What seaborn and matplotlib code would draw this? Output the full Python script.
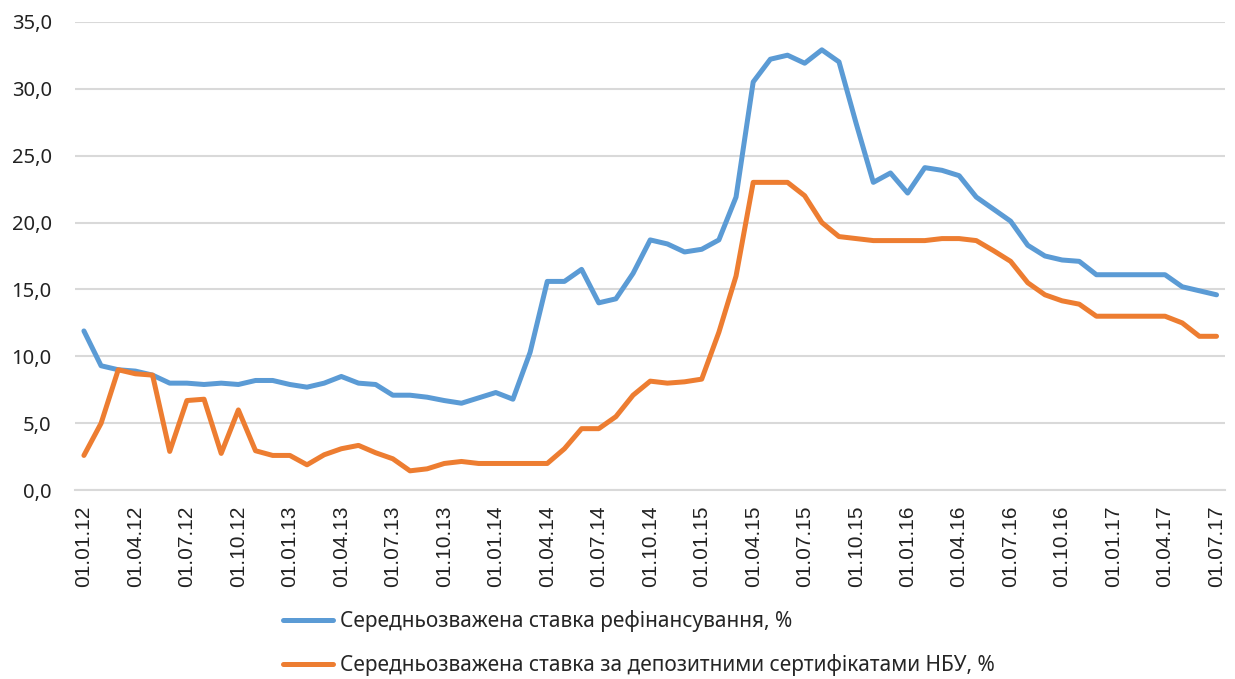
import matplotlib
matplotlib.use("Agg")
import matplotlib.pyplot as plt
import seaborn as sns
import pandas as pd

# monthly data, 01.01.12 - 01.07.17
months = pd.date_range("2012-01-01", "2017-07-01", freq="MS")

refinance_rate = [
    11.9, 9.3, 9.0, 8.9, 8.6, 8.0, 8.0, 7.9, 8.0, 7.9, 8.2, 8.2,
    7.9, 7.7, 8.0, 8.5, 8.0, 7.9, 7.1, 7.1, 6.95, 6.7, 6.5, 6.9,
    7.3, 6.8, 10.3, 15.6, 15.6, 16.5, 14.0, 14.3, 16.2, 18.7, 18.4, 17.8,
    18.0, 18.7, 21.9, 30.5, 32.2, 32.5, 31.9, 32.9, 32.0, 27.4, 23.0, 23.7,
    22.2, 24.1, 23.9, 23.5, 21.9, 21.0, 20.1, 18.3, 17.5, 17.2, 17.1, 16.1,
    16.1, 16.1, 16.1, 16.1, 15.2, 14.9, 14.6,
]
deposit_rate = [
    2.6, 5.0, 9.0, 8.7, 8.6, 2.9, 6.7, 6.8, 2.75, 6.0, 2.95, 2.6,
    2.6, 1.9, 2.65, 3.1, 3.35, 2.8, 2.35, 1.45, 1.6, 2.0, 2.15, 2.0,
    2.0, 2.0, 2.0, 2.0, 3.1, 4.6, 4.6, 5.5, 7.1, 8.15, 8.0, 8.1,
    8.3, 11.8, 16.0, 23.0, 23.0, 23.0, 22.0, 20.0, 18.95, 18.8, 18.65, 18.65,
    18.65, 18.65, 18.8, 18.8, 18.65, 17.9, 17.1, 15.5, 14.6, 14.15, 13.9, 13.0,
    13.0, 13.0, 13.0, 13.0, 12.5, 11.5, 11.5,
]
series_names = [
    "Середньозважена ставка рефінансування, %",
    "Середньозважена ставка за депозитними сертифікатами НБУ, %",
]
colors = ["#5B9BD5", "#ED7D31"]

df = pd.DataFrame({
    "idx": list(range(len(months))) * 2,
    "value": refinance_rate + deposit_rate,
    "series": [series_names[0]] * len(months) + [series_names[1]] * len(months),
})

sns.set_style("white")
plt.rcParams["font.family"] = ["Noto Sans", "DejaVu Sans"]

fig = plt.figure(figsize=(12.35, 6.79), dpi=100)
ax = fig.add_axes([0.061, 0.278, 0.931, 0.690])

sns.lineplot(data=df, x="idx", y="value", hue="series", hue_order=series_names,
             palette=colors, linewidth=3.6, ax=ax, legend=False,
             solid_capstyle="round", solid_joinstyle="round")

ax.set_xlim(-0.5, len(months) - 0.5)
ax.set_ylim(0, 35)
ax.set_yticks(range(0, 36, 5))
ax.set_yticklabels([f"{v},0" for v in range(0, 36, 5)], fontsize=14.5, color="#222222")
ax.yaxis.grid(True, color="#d9d9d9", linewidth=1.5)
ax.tick_params(axis="y", length=0, pad=17)

# labels every 3 months, tick marks between categories
label_pos = list(range(0, len(months), 3))
ax.set_xticks(label_pos)
ax.set_xticklabels([months[i].strftime("%d.%m.%y") for i in label_pos],
                   rotation=90, fontsize=15, color="#222222")
for t in ax.get_xticklabels():
    t.set_fontfamily(["Liberation Sans", "DejaVu Sans"])
ax.tick_params(axis="x", length=0, pad=11)
ax.set_xticks([p - 0.5 for p in range(0, len(months) + 1, 3)], minor=True)
ax.tick_params(axis="x", which="minor", length=7, width=1.5, color="#d9d9d9")
ax.set_xlabel("")
ax.set_ylabel("")

for s in ["top", "right", "left"]:
    ax.spines[s].set_visible(False)
ax.spines["bottom"].set_color("#d9d9d9")
ax.spines["bottom"].set_linewidth(1.5)

handles = [plt.Line2D([], [], color=c, linewidth=3.6, solid_capstyle="round") for c in colors]
fig.legend(handles, series_names, loc="center left", bbox_to_anchor=(0.229, 0.053),
           bbox_transform=fig.transFigure, frameon=False,
           handlelength=2.4, handletextpad=0.33, labelspacing=1.05, borderpad=0,
           borderaxespad=0, prop={"family": ["Noto Sans", "DejaVu Sans"], "size": 15})

fig.savefig("out.png", dpi=100)
